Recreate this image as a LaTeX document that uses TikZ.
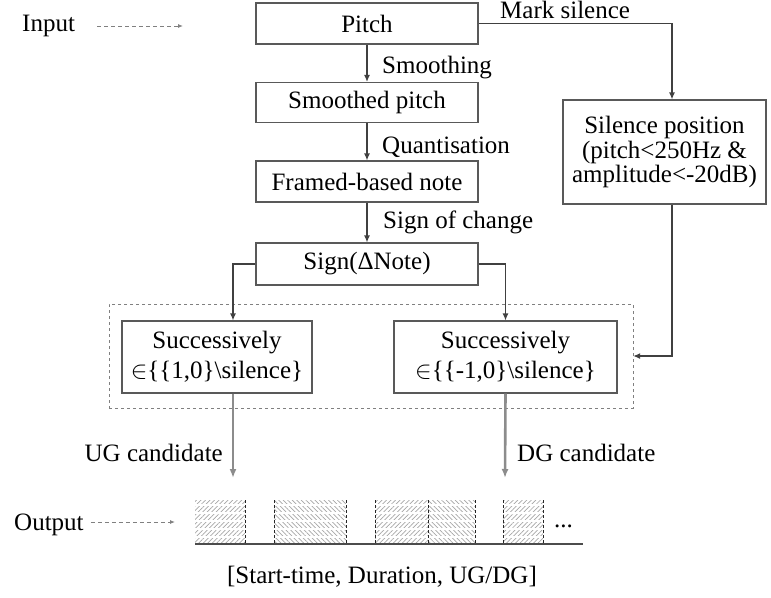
\documentclass[tikz,border=0pt]{standalone}
\usepackage{fontspec}
\setmainfont{Liberation Serif}
\usetikzlibrary{arrows.meta,patterns.meta}

\begin{document}
\begin{tikzpicture}[x=1pt,y=-1pt,
        txt/.style={font=\fontsize{25}{30}\selectfont},
        stepbox/.style={draw=black!65, line width=1.2pt, inner sep=0pt, align=center, txt},
        flow/.style={color=black!75, line width=1.2pt, -{Latex[length=7pt,width=6pt]}},
        cand/.style={color=black!45, line width=2.6pt, -{Latex[length=9pt,width=7pt]}},
        hint/.style={color=black!50, line width=0.9pt, dash pattern=on 4pt off 3pt, -{Latex[length=5pt,width=4pt]}},
        lbl/.style={txt, inner sep=0pt}]
    %
    \useasboundingbox (0,0) rectangle (771,597);
    %
    %% Processing steps
    \node[stepbox, minimum width=222pt, minimum height=41pt] (pitch)  at (367,23.5)  {Pitch};
    \node[stepbox, minimum width=222pt, minimum height=40pt] (smooth) at (367,102.5) {Smoothed pitch};
    \node[stepbox, minimum width=222pt, minimum height=41pt] (framed) at (367,181.5) {Framed-based note};
    \node[stepbox, minimum width=222pt, minimum height=42pt] (sign)   at (367,264)   {Sign(ΔNote)};
    \node[stepbox, minimum width=203pt, minimum height=104pt,
          font=\fontsize{25}{24.5}\selectfont] (silence) at (664.5,152)
          {Silence position\\(pitch<250Hz \&\\amplitude<-20dB)};
    %
    %% Candidate boxes and their frame
    \node[draw=black!50, thin, dashed, minimum width=524pt, minimum height=104pt] (frame) at (371,356) {};
    \node[stepbox, minimum width=190pt, minimum height=72pt] (upbox) at (217,357)
          {Successively\\$\in$\{\{1,0\}\textbackslash silence\}};
    \node[stepbox, minimum width=223pt, minimum height=72pt] (downbox) at (505.5,357)
          {Successively\\$\in$\{\{-1,0\}\textbackslash silence\}};
    %
    %% Labels of the steps
    \node[lbl, anchor=base west] (marklbl)  at (500,19)  {Mark silence};
    \node[lbl, anchor=base west] (smoothlbl) at (382,73)  {Smoothing};
    \node[lbl, anchor=base west] (quantlbl) at (382,153) {Quantisation};
    \node[lbl, anchor=base west] (changelbl) at (383,228) {Sign of change};
    \node[lbl, anchor=base east] (uglbl)    at (223,461) {UG candidate};
    \node[lbl, anchor=base west] (dglbl)    at (517,461) {DG candidate};
    %
    %% Connectors
    \draw[flow] (pitch) -- (smooth);
    \draw[flow] (smooth) -- (framed);
    \draw[flow] (framed) -- (sign);
    \draw[flow] (pitch.east) -| ([xshift=7.5pt]silence.north);
    \draw[flow] ([xshift=7.5pt]silence.south) |- (frame.east);
    \draw[flow] (sign.west) -| ([xshift=16pt]upbox.north);
    \draw[flow] (sign.east) -| (downbox.north);
    %
    \coordinate (ugend) at (233,478);
    \coordinate (dgend) at (505,478);
    \draw[cand] ([xshift=16pt]upbox.south) -- (ugend);
    \draw[cand] (downbox.south) -- (dgend);
    %
    %% Input and output
    \node[lbl, anchor=base west] (input)  at (22,31)  {Input};
    \node[lbl, anchor=base west] (output) at (14,530) {Output};
    \coordinate (inend)  at (183,26);
    \coordinate (outend) at (175,522);
    \draw[hint] ([xshift=22pt]input.east |- inend) -- (inend);
    \draw[hint] ([xshift=7pt]output.east |- outend) -- (outend);
    %
    %% Output time line
    \foreach \a/\b/\g in {195/245/45, 274/346/-45, 375/428/45, 428/475/-45, 503/543/45}
        \fill[pattern={Lines[angle=\g, distance=3.2pt, line width=0.7pt]}, pattern color=black!35]
            (\a,500) rectangle (\b,544);
    \foreach \y in {505,513,521,529,537}
        \draw[white, line width=1.8pt] (195,\y) -- (543,\y);
    \foreach \x in {245,274,346,375,428,475,503,543}
        \draw[black!85, densely dashed, line width=1pt] (\x,500) -- (\x,544);
    \draw[black!70, line width=2.5pt] (195,544) -- (583,544);
    \node[lbl, anchor=base west] (dots) at (554,527) {...};
    \node[lbl, anchor=base] (caption) at (382,583) {[Start-time, Duration, UG/DG]};
    %%
\end{tikzpicture}
\end{document}
